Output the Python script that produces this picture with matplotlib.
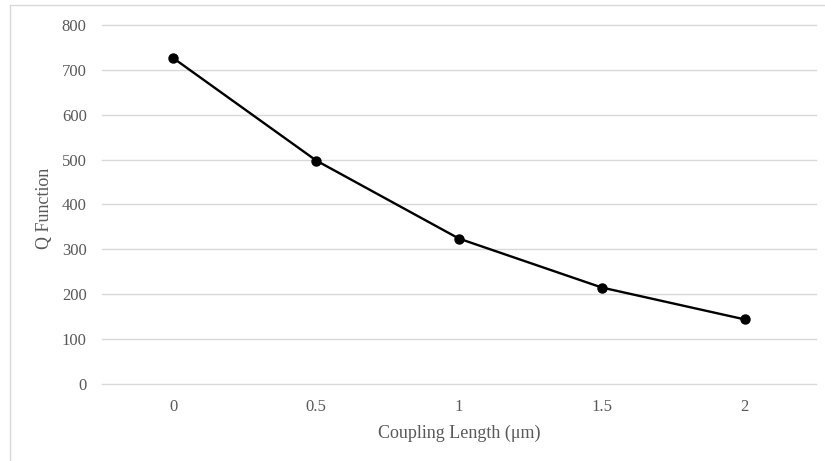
import matplotlib
matplotlib.use("Agg")
import matplotlib.pyplot as plt
from matplotlib.lines import Line2D

categories = ["0", "0.5", "1", "1.5", "2"]
q_values = [726, 498, 324, 215, 144]
y_ticks = [0, 100, 200, 300, 400, 500, 600, 700, 800]

plt.rcParams['font.family'] = ['Liberation Serif', 'DejaVu Serif']

W, H = 825, 461
fig = plt.figure(figsize=(W / 100, H / 100), dpi=100)
fig.patch.set_facecolor("white")

left, right = 102 / W, 816 / W
top_px, bot_px = 25, 384
ax = fig.add_axes([left, 1 - bot_px / H, right - left, (bot_px - top_px) / H])

x = list(range(len(categories)))
ax.plot(x, q_values, color="black", linewidth=1.7, marker="o",
        markersize=6.5, zorder=3)

ax.set_xlim(-0.5, len(categories) - 0.5)
ax.set_ylim(y_ticks[0], y_ticks[-1])
ax.set_yticks(y_ticks)
ax.set_xticks(x)
ax.set_xticklabels(categories)
ax.yaxis.grid(True, color="#d9d9d9", linewidth=1.0)
for gl in ax.get_ygridlines():
    gl.set_clip_on(False)
ax.set_axisbelow(True)
for s in ax.spines.values():
    s.set_visible(False)
ax.tick_params(axis="both", length=0, labelsize=12, labelcolor="#595959")
ax.tick_params(axis="y", pad=11)
ax.tick_params(axis="x", pad=11)

ax.set_xlabel("Coupling Length (μm)", fontsize=13, color="#595959")
ax.set_ylabel("Q Function", fontsize=13, color="#595959")
ax.xaxis.set_label_coords(459 / W, 1 - 433 / H, transform=fig.transFigure)
ax.yaxis.set_label_coords(45 / W, 1 - 208 / H, transform=fig.transFigure)
ax.xaxis.label.set_va("center")
ax.yaxis.label.set_va("center")

# outer chart border (left and top visible)
fig.add_artist(Line2D([10 / W, 10 / W], [0, 1 - 5 / H], transform=fig.transFigure,
                      color="#d9d9d9", linewidth=1.0))
fig.add_artist(Line2D([10 / W, 1], [1 - 5 / H, 1 - 5 / H], transform=fig.transFigure,
                      color="#d9d9d9", linewidth=1.0))

fig.savefig("out.png", dpi=100)
